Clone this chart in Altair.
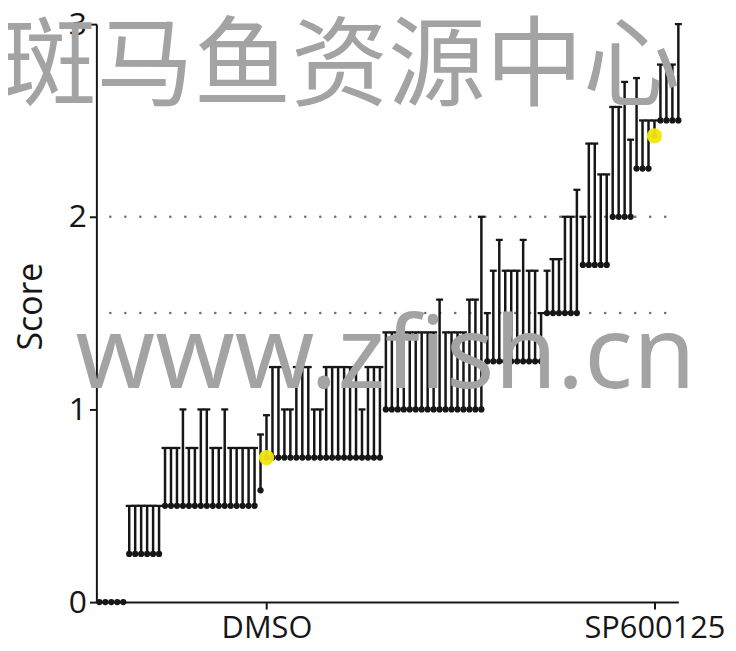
import altair as alt
import pandas as pd

# ---- data ----
means = (
    [0.0] * 5
    + [0.25] * 6
    + [0.5] * 16
    + [0.58]
    + [0.75]            # DMSO
    + [0.75] * 19
    + [1.0] * 17
    + [1.25] * 10
    + [1.5] * 6
    + [1.75] * 5
    + [2.0] * 4
    + [2.25] * 3
    + [2.42]            # SP600125
    + [2.5] * 4
)
uppers = (
    [0.0] * 5
    + [0.5] * 6
    + [0.8, 0.8, 0.8, 1.0, 0.8, 0.8, 1.0, 1.0, 0.8, 0.8, 1.0, 0.8, 0.8, 0.8, 0.8, 0.8]
    + [0.87]
    + [0.97]
    + [1.22, 1.22, 1.0, 1.0, 1.22, 1.22, 1.22, 1.0, 1.0, 1.22, 1.22, 1.22, 1.22, 1.22, 1.22, 1.0, 1.22, 1.22, 1.22]
    + [1.4] * 9 + [1.57] + [1.4] * 4 + [1.57, 1.57] + [2.0]
    + [1.5, 1.72, 1.88, 1.72, 1.72, 1.72, 1.88, 1.72, 1.72, 1.5]
    + [1.72, 1.78, 1.78, 2.0, 2.0, 2.14]
    + [2.0, 2.38, 2.38, 2.22, 2.22]
    + [2.57, 2.57, 2.70, 2.40]
    + [2.72, 2.5, 2.5]
    + [2.5]
    + [2.79, 2.79, 2.79, 3.0]
)
highlight_names = ["DMSO", "SP600125"]
highlight_index = [28, 93]
ref_levels = [1.5, 2.0]
y_ticks = [0, 1, 2, 3]
watermark_cn = ["斑马鱼资源中心"]
watermark_en = ["www.zfish.cn"]

df = pd.DataFrame({"i": list(range(len(means))), "mean": means, "upper": uppers})
caps = df[df["upper"] > df["mean"]]
hl = pd.DataFrame({
    "i": highlight_index,
    "name": highlight_names,
    "mean": [means[k] for k in highlight_index],
})
refs = pd.DataFrame({"level": ref_levels})

label_expr = "''"
for idx, name in zip(highlight_index, highlight_names):
    label_expr = f"datum.value == {idx} ? '{name}' : ({label_expr})"

INK = "#161616"
FONT = "Open Sans"

x_scale = alt.Scale(domain=[-0.5, len(means) - 1], nice=False, zero=False)
y_scale = alt.Scale(domain=[0, 3], nice=False)
x_axis = alt.Axis(values=highlight_index, labelExpr=label_expr, title=None, grid=False,
                  tickSize=7, tickWidth=2, tickColor=INK, domainWidth=2, domainColor=INK,
                  labelFontSize=31, labelFont=FONT, labelColor=INK, labelPadding=5)
y_axis = alt.Axis(values=y_ticks, title="Score", grid=False, tickSize=7, tickWidth=2,
                  tickColor=INK, domainWidth=2, domainColor=INK, labelFontSize=32,
                  labelFont=FONT, labelColor=INK, labelPadding=3,
                  titleFont=FONT, titleFontSize=34, titleFontWeight="normal", titleColor=INK,
                  titleAngle=-90, titleX=-65, titleY=284, titleAlign="center",
                  titleBaseline="middle")

X = alt.X("i:Q", scale=x_scale, axis=x_axis)

ref_layer = alt.Chart(refs).mark_rule(
    color="#6e6e6e", strokeWidth=2.5, strokeDash=[0.1, 15], strokeCap="round"
).encode(
    y=alt.Y("level:Q", scale=y_scale, axis=y_axis),
    x=alt.value(14), x2=alt.value(586),
)

err_layer = alt.Chart(df).mark_rule(color=INK, strokeWidth=2.5).encode(
    x=X,
    y=alt.Y("mean:Q", scale=y_scale, axis=y_axis),
    y2="upper:Q",
)

cap_layer = alt.Chart(caps).mark_tick(
    orient="horizontal", size=7, thickness=2.3, color=INK, opacity=1
).encode(
    x=X,
    y=alt.Y("upper:Q", scale=y_scale, axis=y_axis),
)

dot_layer = alt.Chart(df).mark_circle(size=40, color=INK, opacity=1).encode(
    x=X,
    y=alt.Y("mean:Q", scale=y_scale, axis=y_axis),
)

hl_layer = alt.Chart(hl).mark_circle(size=240, color="#f1e60f", opacity=0.95).encode(
    x=X,
    y=alt.Y("mean:Q", scale=y_scale, axis=y_axis),
)

cn_layer = alt.Chart(pd.DataFrame({"t": watermark_cn})).mark_text(
    font="Noto Sans CJK SC", fontSize=98, color="#a3a3a3", align="center",
    baseline="alphabetic"
).encode(x=alt.value(245), y=alt.value(74), text="t:N")

en_layer = alt.Chart(pd.DataFrame({"t": watermark_en})).mark_text(
    font="Noto Sans", fontSize=102, color="#a3a3a3", align="left",
    baseline="alphabetic"
).encode(x=alt.value(-21), y=alt.value(366), text="t:N")

chart = alt.layer(
    ref_layer, err_layer, cap_layer, dot_layer, hl_layer, cn_layer, en_layer
).properties(
    width=586, height=582,
    autosize=alt.AutoSizeParams(type="none"),
    padding={"left": 89, "top": 14, "right": 50, "bottom": 45},
).configure_view(stroke=None)

chart.save("out.html", embed_options={"renderer": "svg", "actions": False})
